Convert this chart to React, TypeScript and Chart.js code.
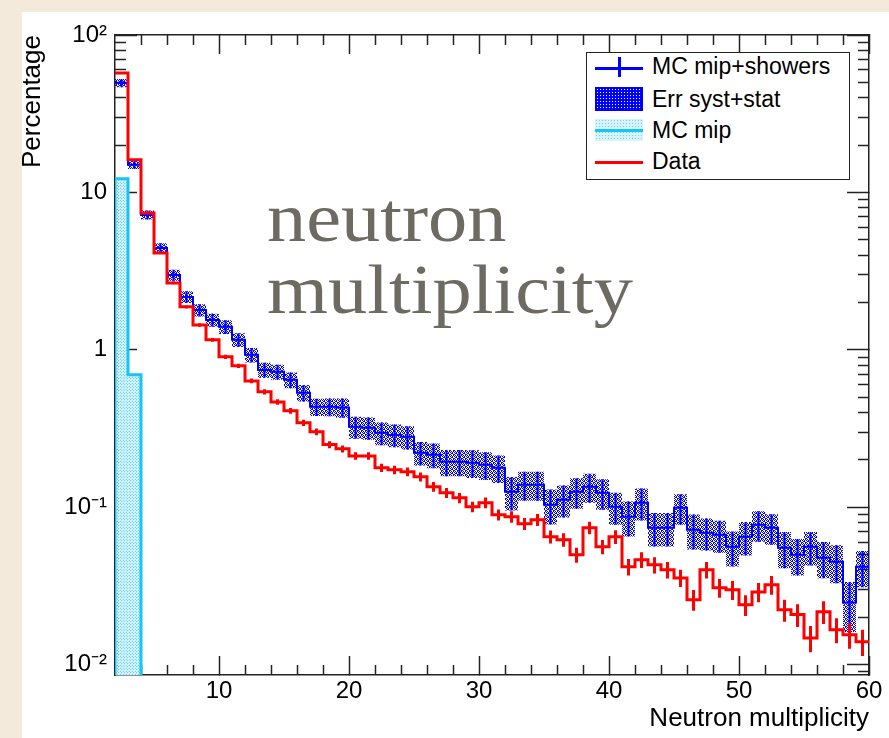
import React, { useEffect, useRef } from 'react';
import { Chart, registerables } from 'chart.js';
Chart.register(...registerables);

// ---------- data ----------
const binStarts = [2, 3, 4, 5, 6, 7, 8, 9, 10, 11, 12, 13, 14, 15, 16, 17, 18, 19, 20, 21, 22, 23, 24, 25, 26, 27, 28, 29, 30, 31, 32, 33, 34, 35, 36, 37, 38, 39, 40, 41, 42, 43, 44, 45, 46, 47, 48, 49, 50, 51, 52, 53, 54, 55, 56, 57, 58, 59];
const binEnd = 60;

const dataValues = [57.4, 16.1, 7.41, 4.13, 2.66, 1.875, 1.44, 1.157, 0.903, 0.791, 0.635, 0.541, 0.467, 0.41, 0.344, 0.3015, 0.25, 0.235, 0.212, 0.212, 0.178, 0.173, 0.168, 0.156, 0.135, 0.1236, 0.1148, 0.1007, 0.1069, 0.0896, 0.0871, 0.0786, 0.0833, 0.065, 0.0622, 0.0499, 0.0741, 0.0561, 0.065, 0.0419, 0.0464, 0.0431, 0.0401, 0.0356, 0.0259, 0.0401, 0.0308, 0.0299, 0.024, 0.029, 0.0322, 0.0223, 0.0208, 0.0148, 0.0217, 0.0167, 0.0155, 0.014];
const dataRelErr = [0.005, 0.008, 0.012, 0.015, 0.02, 0.022, 0.025, 0.028, 0.03, 0.032, 0.035, 0.038, 0.04, 0.042, 0.045, 0.048, 0.05, 0.052, 0.055, 0.056, 0.06, 0.062, 0.064, 0.066, 0.07, 0.072, 0.075, 0.078, 0.078, 0.082, 0.085, 0.088, 0.088, 0.095, 0.098, 0.11, 0.092, 0.105, 0.1, 0.12, 0.115, 0.118, 0.12, 0.125, 0.15, 0.12, 0.135, 0.138, 0.15, 0.14, 0.135, 0.16, 0.165, 0.19, 0.165, 0.18, 0.185, 0.19];

const mcValues = [49.6, 15.0, 7.2, 4.44, 2.99, 2.17, 1.79, 1.55, 1.4, 1.157, 0.93, 0.746, 0.725, 0.645, 0.533, 0.4345, 0.4345, 0.43, 0.3245, 0.32, 0.297, 0.288, 0.28, 0.222, 0.2157, 0.1945, 0.1945, 0.192, 0.1862, 0.178, 0.1254, 0.139, 0.139, 0.1037, 0.1117, 0.1254, 0.135, 0.1236, 0.1007, 0.0871, 0.1069, 0.0741, 0.0741, 0.0993, 0.072, 0.0689, 0.0668, 0.0561, 0.065, 0.0774, 0.0741, 0.0553, 0.0499, 0.0561, 0.0478, 0.0451, 0.0248, 0.0419];
const mcRelErr = [0.06, 0.06, 0.065, 0.07, 0.08, 0.085, 0.09, 0.095, 0.1, 0.1, 0.105, 0.11, 0.11, 0.115, 0.12, 0.125, 0.13, 0.14, 0.16, 0.16, 0.165, 0.165, 0.17, 0.17, 0.18, 0.19, 0.19, 0.2, 0.2, 0.2, 0.24, 0.21, 0.21, 0.25, 0.23, 0.22, 0.21, 0.22, 0.23, 0.25, 0.23, 0.24, 0.24, 0.22, 0.25, 0.23, 0.23, 0.25, 0.24, 0.22, 0.22, 0.26, 0.26, 0.24, 0.26, 0.27, 0.35, 0.26];

// MC mip: only bins starting at 2 and 3 are filled
const mipBins = [2, 3];
const mipValues = [12.2, 0.694];

const xTickValues = [10, 20, 30, 40, 50, 60];
const xMinorTickValues = [4, 6, 8, 12, 14, 16, 18, 22, 24, 26, 28, 32, 34, 36, 38, 42, 44, 46, 48, 52, 54, 56, 58];
const yMin = 0.0086;
const yMax = 100;
const yTickValues = [0.01, 0.1, 1, 10, 100];
const yTickLabels = ['10\u207B\u00B2', '10\u207B\u00B9', '1', '10', '10\u00B2'];
const yMinorTickValues = [0.009, 0.02, 0.03, 0.04, 0.05, 0.06, 0.07, 0.08, 0.09, 0.2, 0.3, 0.4, 0.5, 0.6, 0.7, 0.8, 0.9, 2, 3, 4, 5, 6, 7, 8, 9, 20, 30, 40, 50, 60, 70, 80, 90];

const legendLabels = ['MC mip+showers', 'Err syst+stat', 'MC mip', 'Data'];
const overlayLines = ['neutron', 'multiplicity'];

// ---------- helpers ----------
const SANS = '"Liberation Sans", Arial, Helvetica, sans-serif';
const SERIF = '"Liberation Serif", "DejaVu Serif", serif';
const BLUE = '#0000ff';
const RED = '#ff0000';
const CYAN = '#18c4f2';
const AXIS = '#222222';

function histPoints(vals: number[]) {
  const pts: any[] = binStarts.map((x, i) => ({ x, y: vals[i] }));
  pts.push({ x: binEnd, y: vals[vals.length - 1] });
  return pts;
}
function bandPoints(vals: number[], rel: number[], sign: number) {
  const pts: any[] = binStarts.map((x, i) => ({ x, y: vals[i] * (1 + sign * rel[i]) }));
  pts.push({ x: binEnd, y: vals[vals.length - 1] * (1 + sign * rel[rel.length - 1]) });
  return pts;
}
function errPoints(vals: number[], rel: number[]) {
  const pts: any[] = [];
  binStarts.forEach((x, i) => {
    const c = x + 0.5;
    pts.push({ x: c, y: vals[i] * (1 - rel[i]) });
    pts.push({ x: c, y: vals[i] * (1 + rel[i]) });
    pts.push({ x: c, y: null });
  });
  return pts;
}
function mipPoints() {
  const pts: any[] = [{ x: mipBins[0], y: yMin * 0.5 }];
  mipBins.forEach((x, i) => pts.push({ x, y: mipValues[i] }));
  const last = mipBins[mipBins.length - 1] + 1;
  pts.push({ x: last, y: mipValues[mipValues.length - 1] });
  pts.push({ x: last, y: yMin * 0.5 });
  return pts;
}

function makePattern(ctx: CanvasRenderingContext2D, grid: string[][]) {
  const n = grid.length;
  const tile = document.createElement('canvas');
  tile.width = n;
  tile.height = n;
  const t = tile.getContext('2d')!;
  for (let r = 0; r < n; r++) {
    for (let c = 0; c < n; c++) {
      if (grid[r][c]) {
        t.fillStyle = grid[r][c];
        t.fillRect(c, r, 1, 1);
      }
    }
  }
  return ctx.createPattern(tile, 'repeat')!;
}

const zeroPad = (s: any) => {
  s.paddingTop = 0;
  s.paddingBottom = 0;
  s.paddingLeft = 0;
  s.paddingRight = 0;
};
const fixW = (w: number) => (s: any) => { s.width = w; zeroPad(s); };
const fixH = (h: number) => (s: any) => { s.height = h; zeroPad(s); };
const setTicks = (vals: number[]) => (s: any) => { s.ticks = vals.map((v) => ({ value: v })); };

export default function App() {
  const ref = useRef<HTMLCanvasElement>(null);

  useEffect(() => {
    const canvas = ref.current!;
    const ctx = canvas.getContext('2d')!;
    const B = BLUE;
    const bandPattern = makePattern(ctx, [
      [B, '', B, ''],
      ['', B, B, ''],
      [B, '', '', B],
      ['', B, '', B],
    ]);
    const L = '#bdeefc';
    const D = '#6fd3f3';
    const W = '#e6f9fe';
    const mipPattern = makePattern(ctx, [
      [D, L, W],
      [L, W, L],
      [W, L, D],
    ]);

    const tickGrid = (len: number) => ({
      drawOnChartArea: false,
      drawTicks: true,
      tickLength: len,
      tickWidth: 1.5,
      tickColor: AXIS,
    });

    const chart = new Chart(canvas, {
      type: 'line',
      data: {
        datasets: [
          {
            label: 'MC mip',
            data: mipPoints(),
            stepped: true,
            borderColor: CYAN,
            borderWidth: 3,
            backgroundColor: mipPattern,
            fill: 'start',
            pointRadius: 0,
            order: 5,
          } as any,
          {
            label: 'band upper',
            data: bandPoints(mcValues, mcRelErr, 1),
            stepped: true,
            borderWidth: 0,
            borderColor: 'rgba(0,0,0,0)',
            fill: false,
            pointRadius: 0,
            order: 4,
          },
          {
            label: 'Err syst+stat',
            data: bandPoints(mcValues, mcRelErr, -1),
            stepped: true,
            borderWidth: 0,
            borderColor: 'rgba(0,0,0,0)',
            backgroundColor: bandPattern,
            fill: '-1',
            pointRadius: 0,
            order: 4,
          },
          {
            label: 'MC mip+showers',
            data: histPoints(mcValues),
            stepped: true,
            borderColor: BLUE,
            borderWidth: 2,
            fill: false,
            pointRadius: 0,
            order: 3,
          },
          {
            label: 'MC err',
            data: errPoints(mcValues, mcRelErr),
            borderColor: BLUE,
            borderWidth: 2,
            fill: false,
            pointRadius: 0,
            spanGaps: false,
            order: 3,
          },
          {
            label: 'Data',
            data: histPoints(dataValues),
            stepped: true,
            borderColor: RED,
            borderWidth: 3,
            fill: false,
            pointRadius: 0,
            order: 1,
          },
          {
            label: 'Data err',
            data: errPoints(dataValues, dataRelErr),
            borderColor: RED,
            borderWidth: 3,
            fill: false,
            pointRadius: 0,
            spanGaps: false,
            order: 1,
          },
        ],
      },
      options: {
        responsive: false,
        animation: false,
        devicePixelRatio: 1,
        layout: { padding: { top: 23, right: 20, left: 0, bottom: 0 } },
        plugins: { legend: { display: false }, tooltip: { enabled: false } },
        elements: { point: { radius: 0 }, line: { tension: 0 } },
        scales: {
          x: {
            axis: 'x',
            type: 'linear',
            position: 'bottom',
            min: 2,
            max: 60,
            offset: false,
            afterBuildTicks: setTicks(xTickValues),
            afterFit: fixH(63),
            ticks: {
              autoSkip: false,
              maxRotation: 0,
              padding: 21,
              color: '#000',
              font: { family: SANS, size: 24 },
            },
            grid: tickGrid(-19),
            border: { display: true, color: AXIS, width: 1.5 },
            title: {
              display: true,
              text: 'Neutron multiplicity',
              align: 'end',
              color: '#000',
              font: { family: SANS, size: 26 },
              padding: { top: 0, bottom: 4 },
            },
          },
          xMinor: {
            axis: 'x',
            type: 'linear',
            position: 'bottom',
            weight: -1,
            min: 2,
            max: 60,
            afterBuildTicks: setTicks(xMinorTickValues),
            afterFit: fixH(0),
            ticks: { display: false },
            grid: tickGrid(-10),
            border: { display: false },
          },
          xTop: {
            axis: 'x',
            type: 'linear',
            position: 'top',
            min: 2,
            max: 60,
            afterBuildTicks: setTicks(xTickValues),
            afterFit: fixH(0),
            ticks: { display: false },
            grid: tickGrid(-19),
            border: { display: true, color: AXIS, width: 1.5 },
          },
          xTopMinor: {
            axis: 'x',
            type: 'linear',
            position: 'top',
            weight: -1,
            min: 2,
            max: 60,
            afterBuildTicks: setTicks(xMinorTickValues),
            afterFit: fixH(0),
            ticks: { display: false },
            grid: tickGrid(-10),
            border: { display: false },
          },
          y: {
            axis: 'y',
            type: 'logarithmic',
            position: 'left',
            min: yMin,
            max: yMax,
            afterBuildTicks: setTicks(yTickValues),
            afterFit: fixW(93),
            ticks: {
              autoSkip: false,
              padding: 30,
              color: '#000',
              font: { family: SANS, size: 24 },
              callback: (_v: any, i: number) => yTickLabels[i],
            },
            grid: tickGrid(-22),
            border: { display: true, color: AXIS, width: 1.5 },
            title: {
              display: true,
              text: 'Percentage',
              align: 'end',
              color: '#000',
              font: { family: SANS, size: 26, lineHeight: 0.85 },
              padding: 0,
            },
          },
          yMinor: {
            axis: 'y',
            type: 'logarithmic',
            position: 'left',
            weight: -1,
            min: yMin,
            max: yMax,
            afterBuildTicks: setTicks(yMinorTickValues),
            afterFit: fixW(0),
            ticks: { display: false },
            grid: tickGrid(-11),
            border: { display: false },
          },
          yRight: {
            axis: 'y',
            type: 'logarithmic',
            position: 'right',
            min: yMin,
            max: yMax,
            afterBuildTicks: setTicks(yTickValues),
            afterFit: fixW(0),
            ticks: { display: false },
            grid: tickGrid(-22),
            border: { display: true, color: AXIS, width: 1.5 },
          },
          yRightMinor: {
            axis: 'y',
            type: 'logarithmic',
            position: 'right',
            weight: -1,
            min: yMin,
            max: yMax,
            afterBuildTicks: setTicks(yMinorTickValues),
            afterFit: fixW(0),
            ticks: { display: false },
            grid: tickGrid(-11),
            border: { display: false },
          },
        } as any,
      },
    });
    return () => chart.destroy();
  }, []);

  const rowCenters = [12, 45, 76, 107];
  const textStyle: React.CSSProperties = {
    position: 'absolute',
    left: 65,
    height: 26,
    lineHeight: '26px',
    fontFamily: SANS,
    fontSize: 23,
    color: '#000',
    whiteSpace: 'nowrap',
  };
  const overlayStyle: React.CSSProperties = {
    position: 'absolute',
    left: 267,
    fontFamily: SERIF,
    fontSize: 70,
    lineHeight: '70px',
    color: '#6d6a62',
    whiteSpace: 'nowrap',
    transform: 'scaleX(1.12)',
    transformOrigin: 'left top',
  };

  return (
    <div style={{ position: 'fixed', left: 0, top: 0, width: 889, height: 738, background: '#f3eadb', overflow: 'hidden' }}>
      <div style={{ position: 'absolute', left: 22, top: 12, width: 867, height: 726, background: '#ffffff' }}>
        <canvas ref={ref} width={867} height={726} style={{ display: 'block', width: 867, height: 726 }} />
      </div>

      {/* overlay title text */}
      <div style={{ ...overlayStyle, top: 183 }}>{overlayLines[0]}</div>
      <div style={{ ...overlayStyle, top: 255 }}>{overlayLines[1]}</div>

      {/* legend */}
      <div style={{ position: 'absolute', left: 586, top: 52, width: 264, height: 128, boxSizing: 'border-box', border: '1.5px solid #222', background: '#fff' }}>
        {/* MC mip+showers: line with error bar */}
        <div style={{ position: 'absolute', left: 8, top: rowCenters[0] + 2, width: 48, height: 3, background: BLUE }} />
        <div style={{ position: 'absolute', left: 31, top: rowCenters[0] - 8, width: 3, height: 20, background: BLUE }} />
        {/* Err syst+stat: patterned box */}
        <div style={{ position: 'absolute', left: 8, top: rowCenters[1] - 11, width: 48, height: 24, boxSizing: 'border-box', border: '1.5px solid ' + BLUE, backgroundColor: BLUE, backgroundImage: 'radial-gradient(circle, #ffffff 0.7px, transparent 1px)', backgroundSize: '3px 3px' }} />
        {/* MC mip: pale dotted box with cyan line */}
        <div style={{ position: 'absolute', left: 8, top: rowCenters[2] - 10, width: 48, height: 22, backgroundColor: '#d6f4fd', backgroundImage: 'radial-gradient(circle, #6fd3f3 0.7px, transparent 1px)', backgroundSize: '3px 3px' }} />
        <div style={{ position: 'absolute', left: 8, top: rowCenters[2], width: 48, height: 3, background: CYAN }} />
        {/* Data: red line */}
        <div style={{ position: 'absolute', left: 8, top: rowCenters[3] + 1, width: 48, height: 3, background: RED }} />
        {legendLabels.map((t, i) => (
          <div key={t} style={{ ...textStyle, top: rowCenters[i] - 12 }}>{t}</div>
        ))}
      </div>
    </div>
  );
}
